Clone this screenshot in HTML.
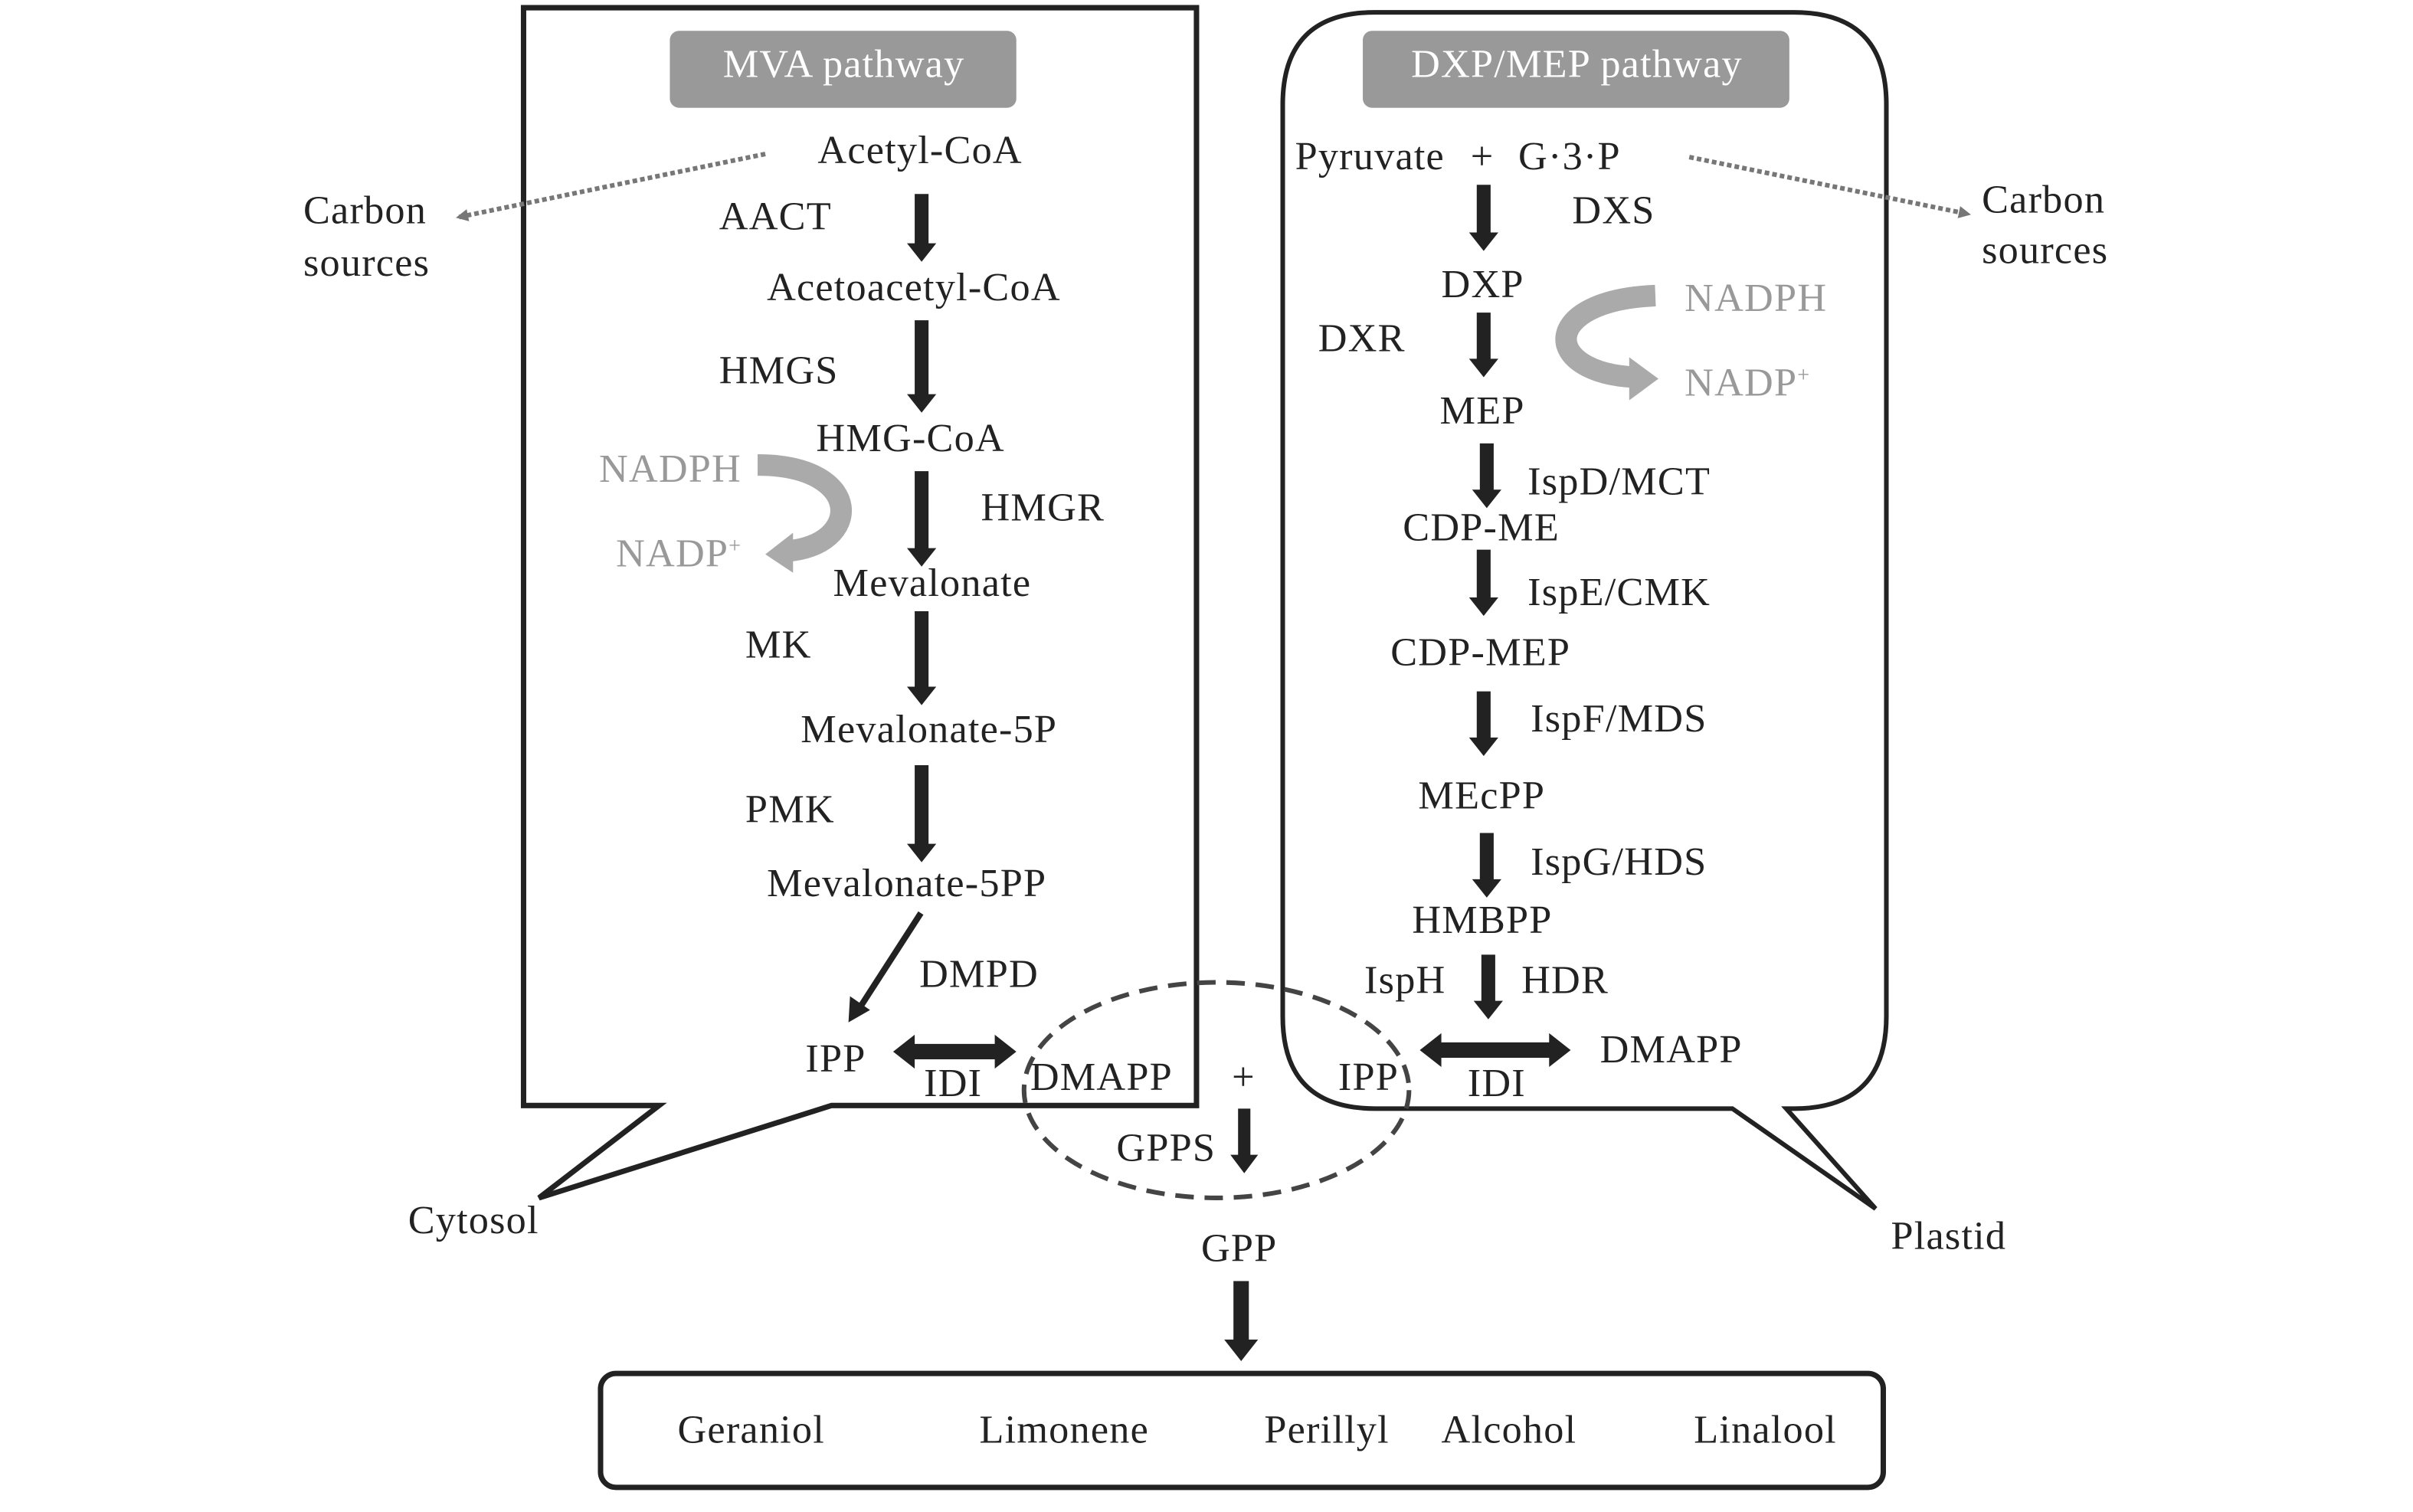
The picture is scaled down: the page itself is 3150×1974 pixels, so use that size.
<!DOCTYPE html>
<html><head><meta charset="utf-8"><style>
html,body{margin:0;padding:0;background:#fff;}
svg{display:block;}
text{font-family:"Liberation Serif",serif;font-size:26px;letter-spacing:0.6px;fill:#222;}
.g{fill:#999;}
</style></head><body>
<svg width="3150" height="1974" viewBox="0 0 1567 982" preserveAspectRatio="none">
<defs>
<marker id="dh" markerWidth="8" markerHeight="8" refX="6" refY="4" orient="auto" markerUnits="userSpaceOnUse"><path d="M0,0 L8,4 L0,8 Z" fill="#777"/></marker>
</defs>
<path d="M340,5 L777,5 L777,718 L540,718 L350,778 L428,718 L340,718 Z" fill="none" stroke="#222" stroke-width="3.5"/>
<path d="M893,8 L1165,8 Q1225,8 1225,68 L1225,660 Q1225,720 1165,720 L1160,720 L1218,785 L1125,720 L893,720 Q833,720 833,660 L833,68 Q833,8 893,8 Z" fill="none" stroke="#222" stroke-width="3"/>
<rect x="435" y="20" width="225" height="50" rx="6" fill="#999"/>
<text x="548" y="50" text-anchor="middle" style="fill:#fff">MVA pathway</text>
<rect x="885" y="20" width="277" height="50" rx="6" fill="#999"/>
<text x="1024" y="50" text-anchor="middle" style="fill:#fff">DXP/MEP pathway</text>
<rect x="390" y="892" width="833" height="74" rx="10" fill="none" stroke="#222" stroke-width="3.5"/>
<ellipse cx="790" cy="708" rx="125" ry="70" fill="none" stroke="#444" stroke-width="3" stroke-dasharray="12,7"/>
<line x1="497" y1="100" x2="298" y2="141" stroke="#777" stroke-width="3" stroke-dasharray="3,2" marker-end="url(#dh)"/>
<line x1="1097" y1="102" x2="1278" y2="139" stroke="#777" stroke-width="3" stroke-dasharray="3,2" marker-end="url(#dh)"/>
<path d="M492,302 C562,302 560,355 510,358" fill="none" stroke="#aaa" stroke-width="14"/>
<path d="M515,346 L497,360 L515,372 Z" fill="#aaa"/>
<path d="M1075,192 C1000,195 1000,242 1062,245" fill="none" stroke="#aaa" stroke-width="14"/>
<path d="M1058,232 L1077,246 L1058,260 Z" fill="#aaa"/>
<g fill="#222">
<path d="M594,126 h9 v32 h5 l-9.5,12 l-9.5,-12 h5 Z"/>
<path d="M594,208 h9 v48 h5 l-9.5,12 l-9.5,-12 h5 Z"/>
<path d="M594,306 h9 v50 h5 l-9.5,12 l-9.5,-12 h5 Z"/>
<path d="M594,397 h9 v49 h5 l-9.5,12 l-9.5,-12 h5 Z"/>
<path d="M594,497 h9 v51 h5 l-9.5,12 l-9.5,-12 h5 Z"/>
<path d="M959,120 h9 v31 h5 l-9.5,12 l-9.5,-12 h5 Z"/>
<path d="M959,203 h9 v30 h5 l-9.5,12 l-9.5,-12 h5 Z"/>
<path d="M961,288 h9 v30 h5 l-9.5,12 l-9.5,-12 h5 Z"/>
<path d="M959,357 h9 v31 h5 l-9.5,12 l-9.5,-12 h5 Z"/>
<path d="M959,449 h9 v30 h5 l-9.5,12 l-9.5,-12 h5 Z"/>
<path d="M961,541 h9 v30 h5 l-9.5,12 l-9.5,-12 h5 Z"/>
<path d="M962,620 h9 v30 h5 l-9.5,12 l-9.5,-12 h5 Z"/>
<path d="M804,720 h8 v30 h5 l-9,12 l-9,-12 h5 Z"/>
<path d="M801,832 h10 v38 h6 l-11,14 l-11,-14 h6 Z"/>
<path d="M580,683 l14,-11 v6 h52 v-6 l14,11 l-14,11 v-6 h-52 v6 Z"/>
<path d="M922,682 l14,-11 v6 h70 v-6 l14,11 l-14,11 v-6 h-70 v6 Z"/>
</g>
<line x1="598" y1="593" x2="558" y2="655" stroke="#222" stroke-width="4"/>
<path d="M551,664 L552,647 L565,656 Z" fill="#222"/>
<text x="531" y="106">Acetyl-CoA</text>
<text x="467" y="149">AACT</text>
<text x="498" y="195">Acetoacetyl-CoA</text>
<text x="467" y="249">HMGS</text>
<text x="530" y="293">HMG-CoA</text>
<text x="389" y="313" class="g">NADPH</text>
<text x="637" y="338">HMGR</text>
<text x="400" y="368" class="g">NADP<tspan font-size="14" dy="-9">+</tspan></text>
<text x="541" y="387">Mevalonate</text>
<text x="484" y="427">MK</text>
<text x="520" y="482">Mevalonate-5P</text>
<text x="484" y="534">PMK</text>
<text x="498" y="582">Mevalonate-5PP</text>
<text x="597" y="641">DMPD</text>
<text x="523" y="696">IPP</text>
<text x="600" y="712">IDI</text>
<text x="669" y="708">DMAPP</text>
<text x="800" y="708">+</text>
<text x="725" y="754">GPPS</text>
<text x="197" y="145">Carbon</text>
<text x="197" y="179">sources</text>
<text x="265" y="801">Cytosol</text>
<text x="780" y="819">GPP</text>
<text x="841" y="110">Pyruvate</text>
<text x="955" y="110">+</text>
<text x="986" y="110">G·3·P</text>
<text x="1021" y="145">DXS</text>
<text x="936" y="193">DXP</text>
<text x="1094" y="202" class="g">NADPH</text>
<text x="856" y="228">DXR</text>
<text x="1094" y="257" class="g">NADP<tspan font-size="14" dy="-9">+</tspan></text>
<text x="935" y="275">MEP</text>
<text x="992" y="321">IspD/MCT</text>
<text x="911" y="351">CDP-ME</text>
<text x="992" y="393">IspE/CMK</text>
<text x="903" y="432">CDP-MEP</text>
<text x="994" y="475">IspF/MDS</text>
<text x="921" y="525">MEcPP</text>
<text x="994" y="568">IspG/HDS</text>
<text x="917" y="606">HMBPP</text>
<text x="886" y="645">IspH</text>
<text x="988" y="645">HDR</text>
<text x="1039" y="690">DMAPP</text>
<text x="869" y="708">IPP</text>
<text x="953" y="712">IDI</text>
<text x="1287" y="138">Carbon</text>
<text x="1287" y="171">sources</text>
<text x="1228" y="811">Plastid</text>
<text x="440" y="937">Geraniol</text>
<text x="636" y="937">Limonene</text>
<text x="821" y="937">Perillyl</text>
<text x="936" y="937">Alcohol</text>
<text x="1100" y="937">Linalool</text>
</svg>
</body></html>
